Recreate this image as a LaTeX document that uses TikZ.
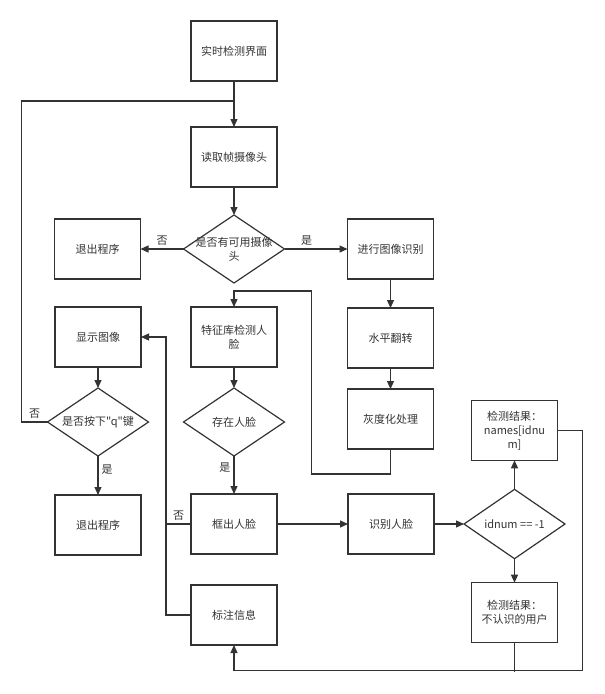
\documentclass[tikz,border=0pt]{standalone}
\usepackage{fontspec}
\newfontfamily\cjk{Noto Sans CJK SC}
\usepackage{tikz}
\usetikzlibrary{positioning,arrows.meta,shapes.geometric,calc}
\usepackage{xcolor}
\definecolor{ink}{HTML}{333333}
\newcommand{\dlabel}[1]{\makebox[0pt]{#1}}

\begin{document}
\begin{tikzpicture}[
    x=1pt, y=-1pt,
    node distance=24pt,
    font=\cjk\fontsize{11}{14}\selectfont,
    process/.style={rectangle, draw=ink, line width=1.2pt, outer sep=0pt, minimum width=86pt, minimum height=60pt, align=center, text=ink, inner sep=2pt},
    decision/.style={diamond, draw=ink, line width=1.2pt, outer sep=0pt, minimum width=101pt, minimum height=68pt, inner sep=0pt, align=center, text=ink},
    arrow/.style={-{Triangle[length=8pt, width=7pt]}, line width=1.2pt, color=ink},
    link/.style={line width=1.2pt, color=ink},
    tag/.style={text=ink, inner sep=3pt}
]
\useasboundingbox (0,0) rectangle (605,694);

% Main column
\node[process] (live) at (234,51) {实时检测界面};
\node[process, below=46pt of live] (read) {读取帧摄像头};
\node[decision, below=28pt of read] (cam) {\dlabel{是否有可用摄像}\\\dlabel{头}};
\node[process, left=43pt of cam] (quit1) {退出程序};
\node[process, right=63pt of cam] (recog) {进行图像识别};
\node[process, below=29pt of recog] (flip) {水平翻转};
\node[process, below=21pt of flip] (gray) {灰度化处理};
\node[process, below=24pt of cam] (feat) {特征库检测人\\脸};
\node[decision, below=21pt of feat] (face) {存在人脸};
\node[process, below=38pt of face] (frame) {框出人脸};
\node[process, below=31pt of frame] (mark) {标注信息};
\node[process, right=71pt of frame] (ident) {识别人脸};
\node[decision, right=30pt of ident] (idnum) {idnum == -1};
\node[process, above=29pt of idnum] (known) {检测结果：\\names[idnu\\m]};
\node[process, below=24pt of idnum] (unknown) {检测结果：\\不认识的用户};

% Left column
\node[process, left=50pt of feat] (show) {显示图像};
\node[decision, below=21pt of show] (key) {\dlabel{是否按下"q"键}};
\node[process, below=39pt of key] (quit2) {退出程序};

\coordinate (join) at ($(live.south)+(0,20)$);

% Main flow
\draw[arrow] (live) -- (read);
\draw[arrow] (read) -- (cam);
\draw[arrow] (cam) -- node[tag, above] {否} (quit1);
\draw[arrow] (cam) -- node[tag, above, pos=0.35] {是} (recog);
\draw[arrow] (recog) -- (flip);
\draw[arrow] (flip) -- (gray);
\draw[arrow] (gray.south) -- ++(0,25) -| ++(-79,-183) -| (feat.north);
\draw[arrow] (feat) -- (face);
\draw[arrow] (face) -- node[tag, left, pos=0.3] {是} (frame);
\draw[arrow] (frame) -- (ident);
\draw[arrow] (ident) -- (idnum);
\draw[arrow] (idnum) -- (known);
\draw[arrow] (idnum) -- (unknown);

% Results back to marking
\draw[arrow] (known.east) -| ++(25,240) -| (mark.south);
\draw[link] (unknown.south) -- ++(0,29);

% Display loop
\draw[link] (frame.west) -- node[tag, above] {否} ++(-25,0);
\draw[arrow] (mark.west) -- ++(-25,0) |- (show.east);
\draw[arrow] (show) -- (key);
\draw[arrow] (key) -- node[tag, right, pos=0.35] {是} (quit2);
\draw[link] (key.west) -- node[tag, above] {否} ++(-26,0) |- (join);
\end{tikzpicture}
\end{document}
